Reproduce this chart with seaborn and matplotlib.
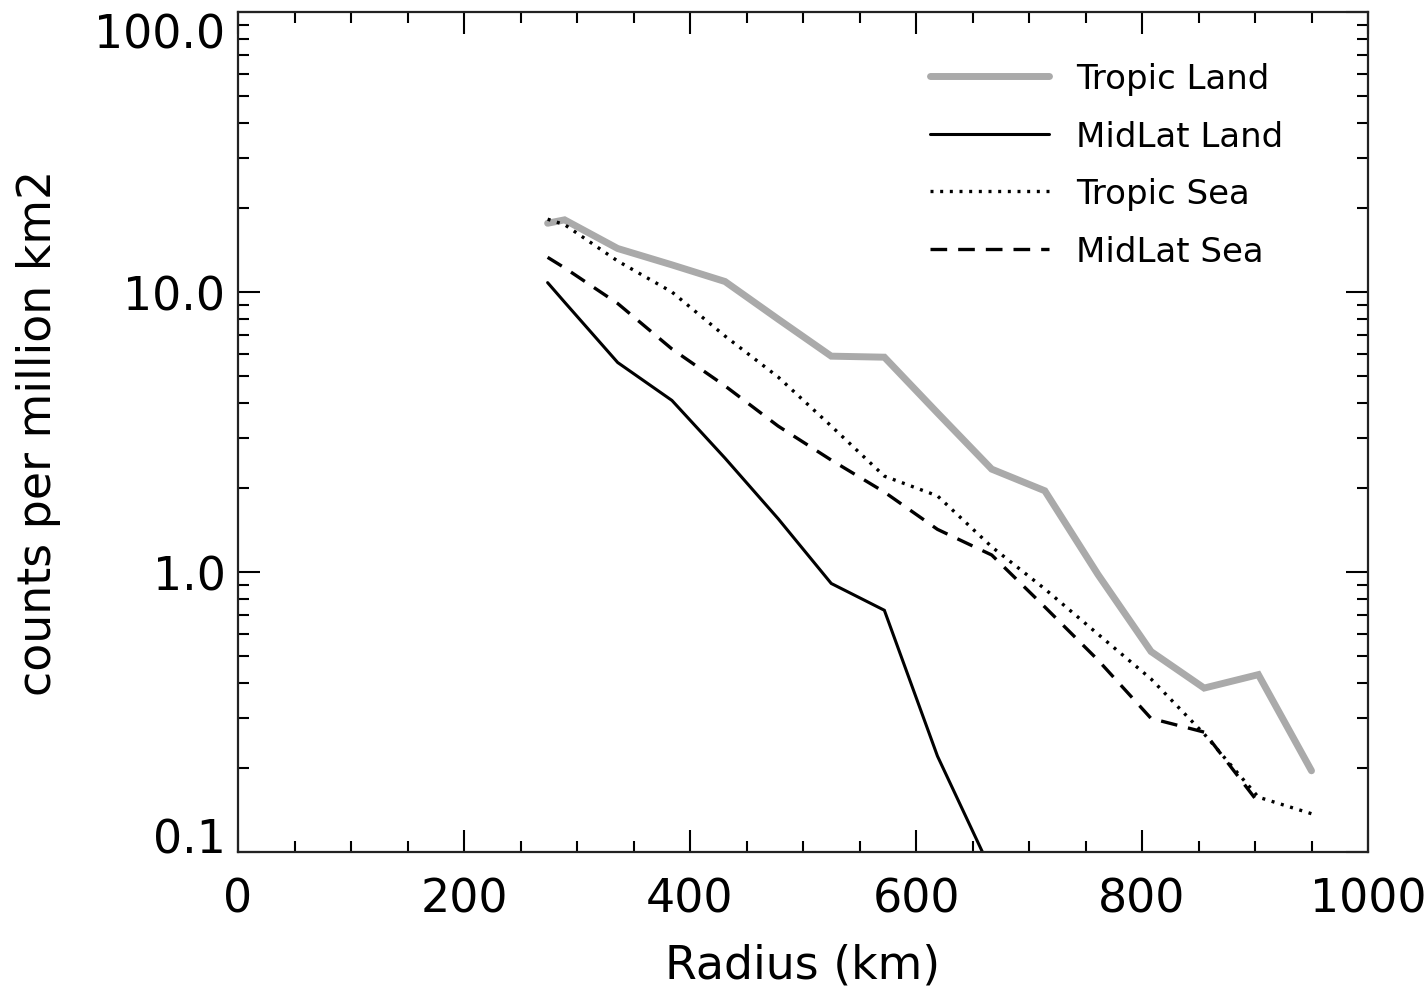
import matplotlib
matplotlib.use("Agg")
import matplotlib.pyplot as plt
from matplotlib.ticker import FixedLocator, FixedFormatter, MultipleLocator, NullFormatter, LogLocator
import numpy as np
import pandas as pd
import seaborn as sns

# ---- data ----
radius = [274, 289, 336, 384, 431, 478, 525, 572, 619, 667, 714, 761, 808, 855, 903, 950]

tropic_land = [17.6, 18.1, 14.3, 12.5, 10.9, 8.0, 5.9, 5.85, 3.7, 2.33, 1.95, 0.98, 0.52, 0.385, 0.43, 0.195]
midlat_land = [10.8, 9.2, 5.6, 4.1, 2.55, 1.55, 0.91, 0.73, 0.22, 0.085]
tropic_sea = [18.2, 17.4, 12.9, 10.0, 6.96, 4.97, 3.32, 2.2, 1.87, 1.23, 0.87, 0.60, 0.415, 0.264, 0.157, 0.137]
midlat_sea = [13.3, 12.2, 9.1, 6.26, 4.62, 3.32, 2.51, 1.93, 1.42, 1.15, 0.75, 0.485, 0.30, 0.268, 0.15]

series_names = ["Tropic Land", "MidLat Land", "Tropic Sea", "MidLat Sea"]
series_values = [tropic_land, midlat_land, tropic_sea, midlat_sea]

y_ticks = [0.1, 1.0, 10.0, 100.0]
y_tick_labels = ["0.1", "1.0", "10.0", "100.0"]
x_ticks = [0, 200, 400, 600, 800, 1000]
x_tick_labels = ["0", "200", "400", "600", "800", "1000"]

sns.set_style("white")
plt.rcParams["font.family"] = ["DejaVu Sans"]
plt.rcParams["text.color"] = "black"
plt.rcParams["axes.labelcolor"] = "black"
plt.rcParams["xtick.color"] = "black"
plt.rcParams["ytick.color"] = "black"

styles = {
    "Tropic Land": dict(color="#aaaaaa", lw=5.0, ls="-"),
    "MidLat Land": dict(color="black", lw=2.2, ls="-"),
    "Tropic Sea": dict(color="black", lw=2.4, ls=(0, (0.9, 2.0))),
    "MidLat Sea": dict(color="black", lw=2.4, ls=(0, (5.0, 3.3))),
}

fig = plt.figure(figsize=(14.26, 9.95), dpi=100)
ax = fig.add_axes([238 / 1426, 1 - 853 / 995, (1368 - 238) / 1426, (853 - 13) / 995])

for name, vals in zip(series_names, series_values):
    df = pd.DataFrame({"radius": radius[:len(vals)], "value": vals})
    st = styles[name]
    sns.lineplot(data=df, x="radius", y="value", ax=ax, color=st["color"],
                 linewidth=st["lw"], linestyle=st["ls"], label=name,
                 solid_joinstyle="miter", dash_capstyle="butt")

ax.set_yscale("log")
ax.set_xlim(0, 1000)
ax.set_ylim(0.1, 100)

ax.xaxis.set_major_locator(FixedLocator(x_ticks))
ax.xaxis.set_major_formatter(FixedFormatter(x_tick_labels))
ax.xaxis.set_minor_locator(MultipleLocator(50))
ax.yaxis.set_major_locator(FixedLocator(y_ticks))
ax.yaxis.set_major_formatter(FixedFormatter(y_tick_labels))
ax.yaxis.set_minor_locator(LogLocator(base=10, subs=np.arange(2, 10)))
ax.yaxis.set_minor_formatter(NullFormatter())

ax.tick_params(which="both", direction="in", top=True, right=True, bottom=True, left=True,
               color="black", width=1.5)
ax.tick_params(which="major", length=16, labelsize=33, pad=9)
ax.tick_params(which="minor", length=8)
ax.tick_params(axis="x", which="major", pad=18)

for sp in ax.spines.values():
    sp.set_linewidth(1.6)
    sp.set_color("#222222")

ax.set_xlabel("Radius (km)", fontsize=33, labelpad=15)
ax.set_ylabel("counts per million km2", fontsize=33, labelpad=24)

fig.canvas.draw()
for lab in ax.get_yticklabels():
    if lab.get_text() == "100.0":
        lab.set_va("top")
    elif lab.get_text() == "0.1":
        lab.set_va("baseline")

leg = ax.legend(loc="upper left", bbox_to_anchor=(0.612, 0.94), frameon=False,
                fontsize=24.5, handlelength=3.5, handletextpad=0.8, labelspacing=0.72,
                borderpad=0, borderaxespad=0)

ax.grid(False)
fig.savefig("out.png", dpi=100, facecolor="white")
